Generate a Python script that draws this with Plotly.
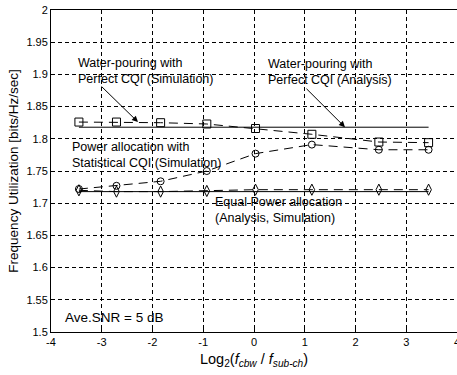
import plotly.graph_objects as go

x = [-3.45, -2.71, -1.84, -0.93, 0.03, 1.14, 2.46, 3.44]
wp_sim = [1.826, 1.826, 1.825, 1.823, 1.816, 1.807, 1.795, 1.794]
wp_ana = [1.818] * 8
stat_sim = [1.722, 1.727, 1.734, 1.750, 1.777, 1.791, 1.783, 1.783]
eq_sim = [1.720, 1.718, 1.718, 1.719, 1.721, 1.721, 1.721, 1.721]
eq_ana = [1.718] * 8

xticks = [-4, -3, -2, -1, 0, 1, 2, 3]
yticks = [1.5, 1.55, 1.6, 1.65, 1.7, 1.75, 1.8, 1.85, 1.9, 1.95, 2]

FONT = "Arial, Liberation Sans, Helvetica, sans-serif"
dash = "9px,6px"

fig = go.Figure()
fig.add_trace(go.Scatter(x=x, y=wp_ana, mode="lines", line=dict(color="black", width=1)))
fig.add_trace(go.Scatter(x=x, y=eq_ana, mode="lines", line=dict(color="black", width=1)))
fig.add_trace(go.Scatter(x=x, y=wp_sim, mode="lines+markers",
                         line=dict(color="black", width=1, dash=dash),
                         marker=dict(symbol="square-open", size=8, color="black", line=dict(width=1))))
fig.add_trace(go.Scatter(x=x, y=stat_sim, mode="lines+markers",
                         line=dict(color="black", width=1, dash=dash),
                         marker=dict(symbol="circle-open", size=7, color="black", line=dict(width=1))))
fig.add_trace(go.Scatter(x=x, y=eq_sim, mode="lines+markers",
                         line=dict(color="black", width=1, dash=dash),
                         marker=dict(symbol="diamond-tall-open", size=8, color="black", line=dict(width=1))))

annotations = [
    dict(x=-3.51, y=1.905, text="Water-pouring with<br>Perfect CQI (Simulation)", size=12.5),
    dict(x=0.236, y=1.904, text="Water-pouring with<br>Perfect CQI (Analysis)", size=12.5),
    dict(x=-3.63, y=1.775, text="Power allocation with<br>Statistical CQI (Simulation)", size=12.5),
    dict(x=-0.81, y=1.690, text="Equal Power allocation<br>(Analysis, Simulation)", size=12.5),
    dict(x=-3.76, y=1.522, text="Ave.SNR = 5 dB", size=13.5),
]
anns = []
for a in annotations:
    anns.append(dict(x=a["x"], y=a["y"], xref="x", yref="y", text=a["text"], showarrow=False,
                     xanchor="left", yanchor="middle", align="left",
                     font=dict(family=FONT, size=a["size"], color="black")))
arrows = [((-3.034, 1.8835), (-2.286, 1.826)), ((1.005, 1.880), (1.793, 1.818))]
for (tx, ty), (hx, hy) in arrows:
    anns.append(dict(x=hx, y=hy, ax=tx, ay=ty, xref="x", yref="y", axref="x", ayref="y",
                     text="", showarrow=True, arrowhead=2, arrowsize=1.2, arrowwidth=1,
                     arrowcolor="black"))
# last x tick label (cut by the window edge, as in the reference)
anns.append(dict(x=4, y=1.5, xref="x", yref="y", text="4", showarrow=False,
                 xanchor="center", yanchor="top", yshift=-2,
                 font=dict(family=FONT, size=11, color="black")))

axis_common = dict(showline=True, linecolor="black", linewidth=1,
                   ticks="inside", ticklen=4, tickcolor="black",
                   showgrid=True, gridcolor="black", gridwidth=1, griddash="4px,3px",
                   zeroline=False, tickfont=dict(family=FONT, size=11, color="black"))

fig.update_layout(
    width=457, height=375, margin=dict(l=51, r=0, t=10, b=43),
    paper_bgcolor="white", plot_bgcolor="white", showlegend=False,
    annotations=anns,
    xaxis=dict(range=[-4, 4], tickvals=xticks, ticktext=[str(v) for v in xticks], mirror=True,
               title=dict(text="Log<sub>2</sub>(<i>f</i><sub><i>cbw</i></sub> / <i>f</i><sub><i>sub-ch</i></sub>)",
                          font=dict(family=FONT, size=14.5, color="black"), standoff=6),
               **axis_common),
    yaxis=dict(range=[1.5, 2], tickvals=yticks, ticktext=[f"{v:g}" for v in yticks], mirror=False,
               title=dict(text="Frequency Utilization [bits/Hz/sec]",
                          font=dict(family=FONT, size=13.5, color="black"), standoff=4),
               **axis_common),
)

fig.write_html("out.html")
